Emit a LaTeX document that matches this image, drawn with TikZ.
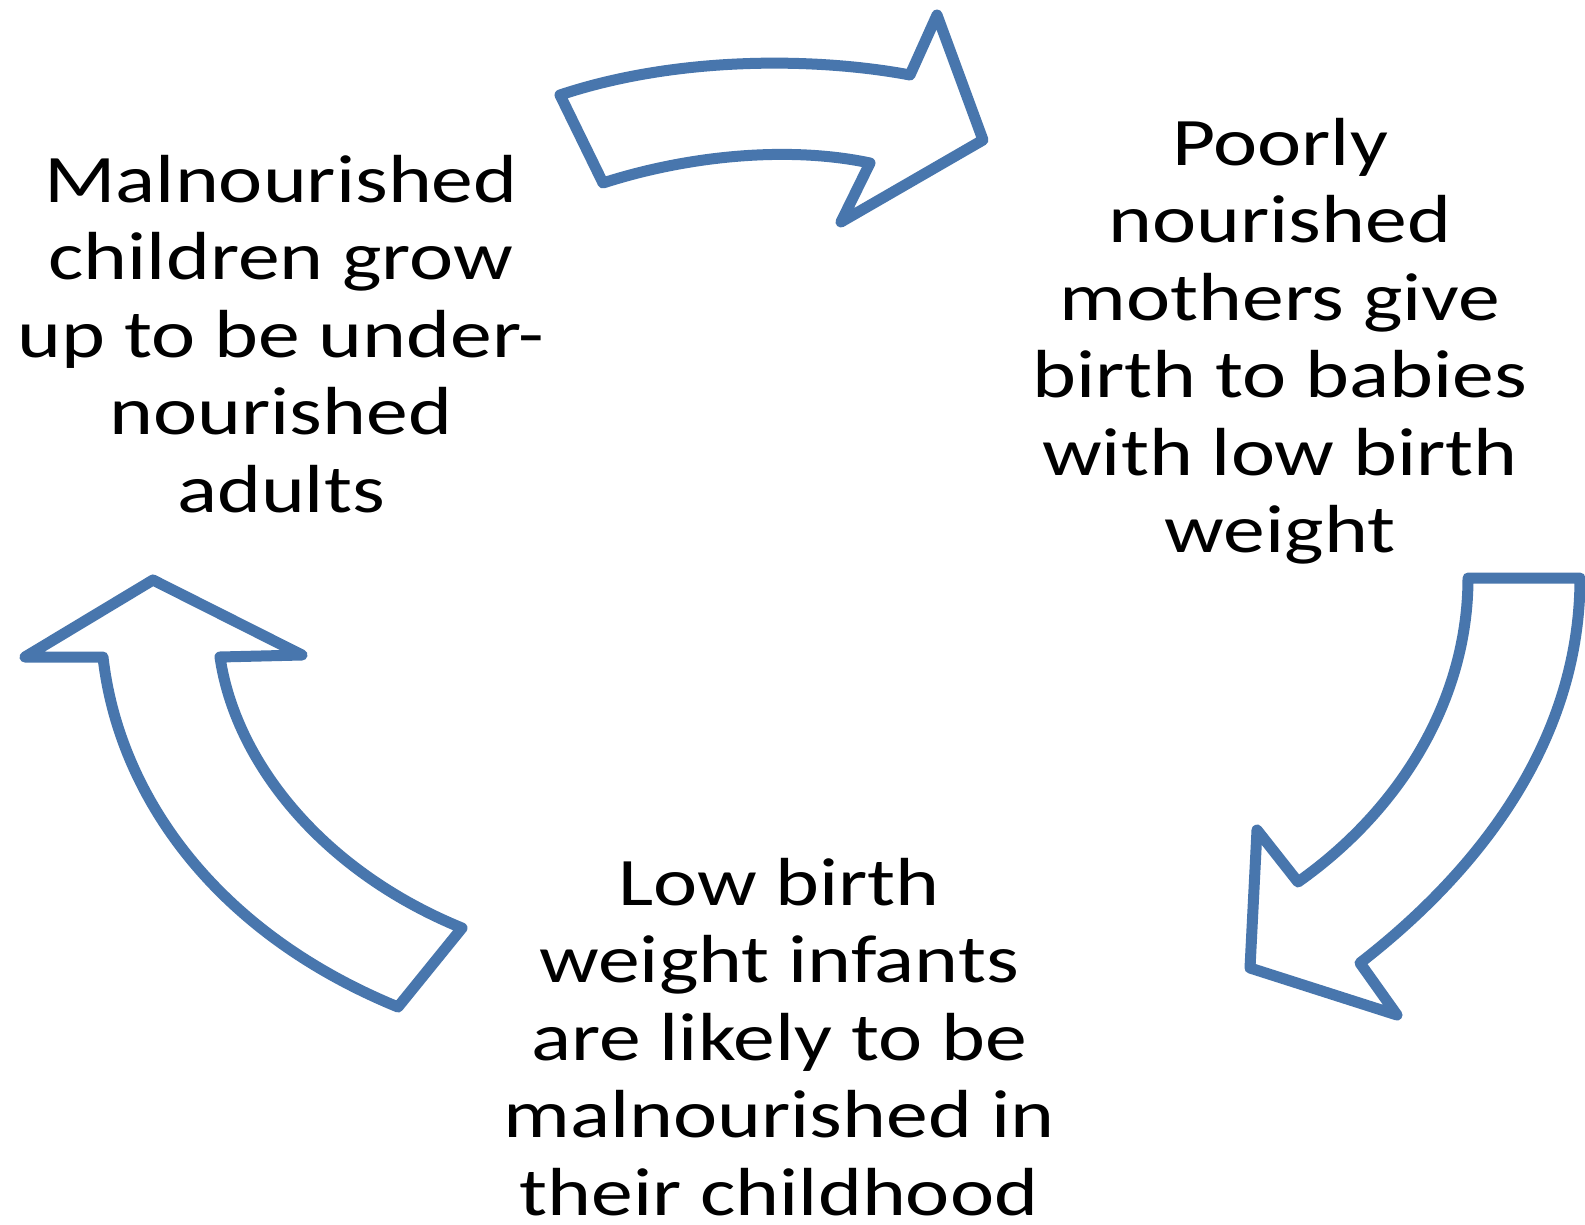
\documentclass[tikz,border=0pt]{standalone}
\usepackage{fontspec}
\setmainfont{Carlito}[FakeStretch=1.23]
\definecolor{arrowblue}{RGB}{72,118,173}
\begin{document}
\begin{tikzpicture}[x=1pt,y=-1pt,
  blockarrow/.style={draw=arrowblue,line width=11pt,line join=round,fill=white},
  cycletext/.style={align=center,inner sep=0pt,font=\fontsize{68}{77.5}\selectfont,text=black}]
\useasboundingbox[fill=white] (0,0) rectangle (1585,1225);
% texts
\node[cycletext] (txtL) at (281,334) {Malnourished\\children grow\\up to be under-\\nourished\\adults};
\node[cycletext] (txtR) at (1280,341) {Poorly\\nourished\\mothers give\\birth to babies\\with low birth\\weight};
\node[cycletext] (txtB) at (779,1037) {Low birth\\weight infants\\are likely to be\\malnourished in\\their childhood};
% top arrow
\draw[blockarrow] (560,95) .. controls (680,55) and (820,58) .. (910,75)
  -- (937,15) -- (983,140) -- (841,222) -- (870,163)
  .. controls (790,146) and (690,155) .. (603,183) -- cycle;
% right arrow
\draw[blockarrow] (1468,578) -- (1580,578)
  .. controls (1580,740) and (1480,870) .. (1360,963)
  -- (1397,1015) -- (1250,968) -- (1257,830) -- (1298,882)
  .. controls (1400,810) and (1468,700) .. (1468,578) -- cycle;
% left arrow
\draw[blockarrow] (398,1007) .. controls (210,930) and (118,790) .. (103,657)
  -- (25,657) -- (153,580) -- (302,655) -- (220,657)
  .. controls (235,760) and (320,870) .. (462,928) -- cycle;
\end{tikzpicture}
\end{document}
